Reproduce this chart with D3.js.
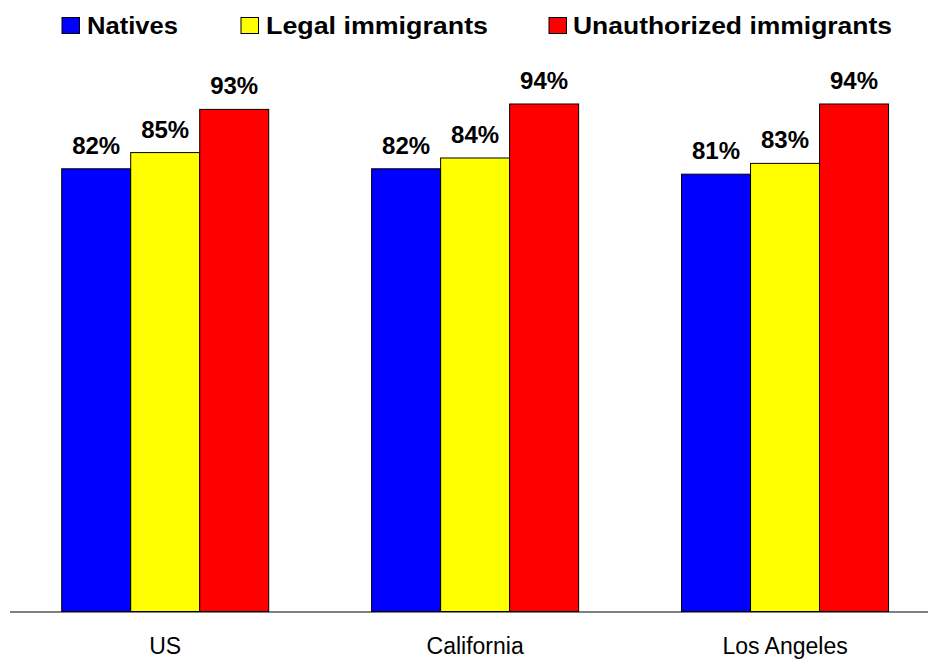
<!DOCTYPE html>
<html>
<head>
<meta charset="utf-8">
<script src="https://cdn.jsdelivr.net/npm/d3@7"></script>
<style>
  html, body { margin: 0; padding: 0; background: #fff; }
  svg { display: block; font-family: "Liberation Sans", Arial, sans-serif; }
</style>
</head>
<body>
<svg id="chart" width="929" height="660"></svg>
<script>
const categories = ["US", "California", "Los Angeles"];
const seriesNames = ["Natives", "Legal immigrants", "Unauthorized immigrants"];
const natives = [82, 82, 81];
const legalImmigrants = [85, 84, 83];
const unauthorizedImmigrants = [93, 94, 94];
const seriesColors = ["#0000FF", "#FFFF00", "#FF0000"];

const seriesValues = [natives, legalImmigrants, unauthorizedImmigrants];
const data = categories.map((c, i) => ({
  category: c,
  values: seriesNames.map((s, j) => ({ series: s, value: seriesValues[j][i], color: seriesColors[j] }))
}));

const svg = d3.select("#chart");
const baseline = 611.5;

const y = d3.scaleLinear().domain([0, 100]).range([baseline, 71.6]);
const x0 = d3.scaleBand().domain(categories).range([10.25, 940]).padding(0);
const groupWidth = 207;
const x1 = d3.scaleBand().domain(seriesNames).range([0, groupWidth]).padding(0);

// axis line
svg.append("line")
  .attr("x1", 10).attr("x2", 928)
  .attr("y1", baseline + 0.5).attr("y2", baseline + 0.5)
  .attr("stroke", "#808080").attr("stroke-width", 2);

const groups = svg.selectAll("g.grp").data(data).enter().append("g")
  .attr("class", "grp")
  .attr("transform", d => `translate(${x0(d.category) + (x0.bandwidth() - groupWidth) / 2},0)`);

groups.selectAll("rect").data(d => d.values).enter().append("rect")
  .attr("x", d => x1(d.series))
  .attr("y", d => y(d.value))
  .attr("width", x1.bandwidth())
  .attr("height", d => baseline - y(d.value))
  .attr("fill", d => d.color)
  .attr("stroke", "#000")
  .attr("stroke-width", 1);

groups.selectAll("text.val").data(d => d.values).enter().append("text")
  .attr("class", "val")
  .attr("x", d => x1(d.series) + x1.bandwidth() / 2)
  .attr("y", d => y(d.value) - 15)
  .attr("text-anchor", "middle")
  .attr("font-size", 24)
  .attr("font-weight", "bold")
  .attr("fill", "#000")
  .text(d => d.value + "%");

// category labels
svg.selectAll("text.cat").data(categories).enter().append("text")
  .attr("class", "cat")
  .attr("x", d => x0(d) + x0.bandwidth() / 2)
  .attr("y", 654)
  .attr("text-anchor", "middle")
  .attr("font-size", 23)
  .attr("fill", "#000")
  .text(d => d);

// legend
const legendX = [62, 241, 549];
const legendTextX = [87, 266, 573];
const legendTextW = [91, 222, 319];
const lg = svg.append("g");
seriesNames.forEach((s, i) => {
  lg.append("rect")
    .attr("x", legendX[i]).attr("y", 17.5)
    .attr("width", 17.5).attr("height", 16)
    .attr("fill", seriesColors[i])
    .attr("stroke", "#000").attr("stroke-width", 1);
  lg.append("text")
    .attr("x", legendTextX[i]).attr("y", 33.5)
    .attr("font-size", 23)
    .attr("font-weight", "bold")
    .attr("textLength", legendTextW[i])
    .attr("lengthAdjust", "spacingAndGlyphs")
    .attr("fill", "#000")
    .text(s);
});
</script>
</body>
</html>
